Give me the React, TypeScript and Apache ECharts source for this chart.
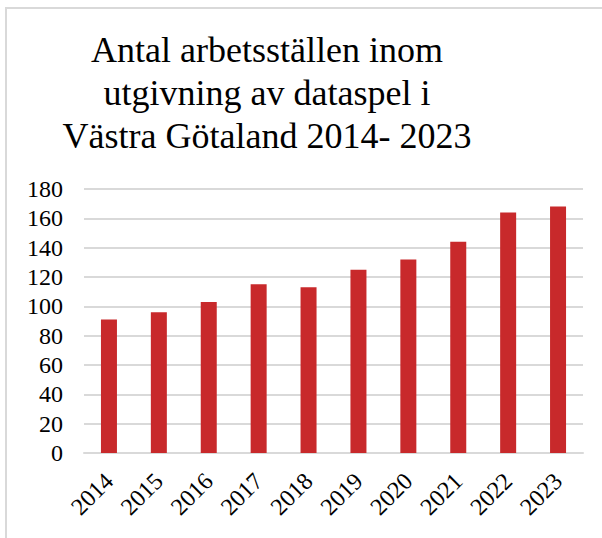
import React, { useEffect, useRef } from "react";
import * as echarts from "echarts";

const titleText = "Antal arbetsställen inom\nutgivning av dataspel i\nVästra Götaland 2014- 2023";
const years = ["2014", "2015", "2016", "2017", "2018", "2019", "2020", "2021", "2022", "2023"];
const counts = [91, 96, 103, 115, 113, 125, 132, 144, 164, 168];
const yMin = 0;
const yMax = 180;
const yStep = 20;

const titleFont = "Liberation Serif";
const labelFont = "Liberation Serif";

export default function App() {
  const ref = useRef<HTMLDivElement>(null);
  useEffect(() => {
    if (!ref.current) return;
    const chart = echarts.init(ref.current, undefined, { renderer: "svg" });
    chart.setOption({
      animation: false,
      backgroundColor: "#ffffff",
      textStyle: { fontFamily: labelFont },
      title: {
        text: titleText,
        left: 262,
        top: 23,
        textAlign: "center",
        textStyle: {
          fontFamily: titleFont,
          fontSize: 36,
          fontWeight: "normal",
          color: "#000000",
          lineHeight: 43,
        },
      },
      graphic: [
        {
          type: "rect",
          shape: { x: 6, y: 8, width: 700, height: 600 },
          style: { fill: "none", stroke: "#d9d9d9", lineWidth: 2 },
          silent: true,
        },
      ],
      grid: { left: 84, right: 19, top: 189, bottom: 85, containLabel: false },
      xAxis: [
        {
          type: "category",
          data: years,
          axisLine: { show: true, lineStyle: { color: "#d9d9d9", width: 2 } },
          axisTick: { show: false },
          axisLabel: {
            show: true,
            rotate: 45,
            margin: 24,
            fontFamily: labelFont,
            fontSize: 24,
            color: "#000000",
          },
        },
      ],
      yAxis: [
        {
          type: "value",
          min: yMin,
          max: yMax,
          interval: yStep,
          axisLine: { show: false },
          axisTick: { show: false },
          splitLine: { lineStyle: { color: "#d9d9d9", width: 2 } },
          axisLabel: {
            show: true,
            margin: 21,
            fontFamily: labelFont,
            fontSize: 24,
            color: "#000000",
          },
        },
      ],
      series: [
        {
          type: "bar",
          data: counts,
          barWidth: 16,
          itemStyle: { color: "#c8292b" },
        },
      ],
    });
    return () => chart.dispose();
  }, []);
  return (
    <div
      ref={ref}
      style={{ position: "absolute", left: 0, top: 0, width: 602, height: 538 }}
    />
  );
}
